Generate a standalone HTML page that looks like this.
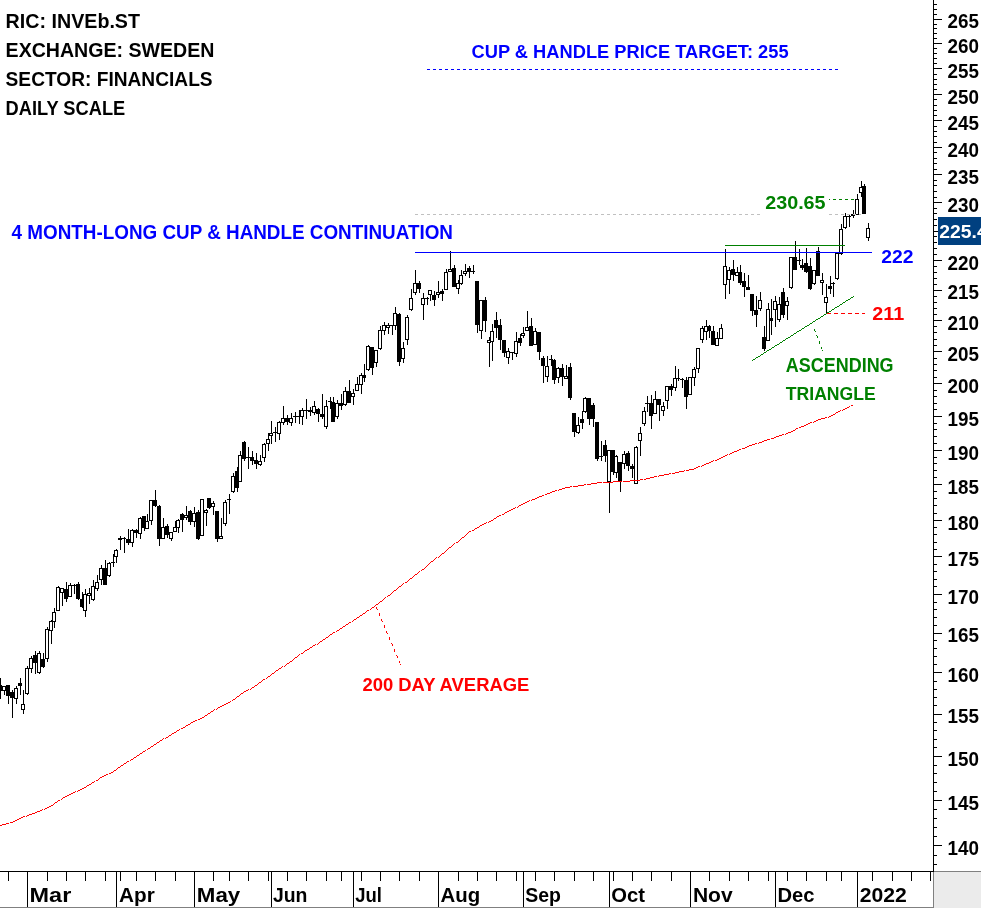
<!DOCTYPE html>
<html><head><meta charset="utf-8"><title>INVEb.ST daily chart</title>
<style>html,body{margin:0;padding:0;background:#fff}body{width:981px;height:908px;overflow:hidden}svg{display:block}text{font-family:"Liberation Sans",sans-serif;font-weight:bold}</style></head><body>
<svg width="981" height="908" viewBox="0 0 981 908">
<rect width="981" height="908" fill="#fff"/>
<g shape-rendering="crispEdges" fill="#000">
<rect x="0" y="678" width="1" height="21"/>
<rect x="-2" y="685" width="4" height="6"/>
<rect x="4" y="686" width="1" height="9"/>
<rect x="2" y="686" width="4" height="5"/>
<rect x="3" y="687" width="2" height="3" fill="#fff"/>
<rect x="8" y="685" width="1" height="19"/>
<rect x="6" y="685" width="4" height="11"/>
<rect x="12" y="690" width="1" height="28"/>
<rect x="10" y="692" width="4" height="6"/>
<rect x="16" y="686" width="1" height="18"/>
<rect x="14" y="688" width="4" height="11"/>
<rect x="15" y="689" width="2" height="9" fill="#fff"/>
<rect x="20" y="678" width="1" height="17"/>
<rect x="18" y="683" width="4" height="3"/>
<rect x="23" y="690" width="1" height="24"/>
<rect x="21" y="704" width="4" height="6"/>
<rect x="22" y="705" width="2" height="4" fill="#fff"/>
<rect x="27" y="666" width="1" height="29"/>
<rect x="25" y="668" width="4" height="26"/>
<rect x="26" y="669" width="2" height="24" fill="#fff"/>
<rect x="31" y="656" width="1" height="17"/>
<rect x="29" y="658" width="4" height="11"/>
<rect x="30" y="659" width="2" height="9" fill="#fff"/>
<rect x="35" y="651" width="1" height="23"/>
<rect x="33" y="655" width="4" height="8"/>
<rect x="39" y="651" width="1" height="23"/>
<rect x="37" y="653" width="4" height="20"/>
<rect x="38" y="654" width="2" height="18" fill="#fff"/>
<rect x="43" y="653" width="1" height="15"/>
<rect x="41" y="659" width="4" height="8"/>
<rect x="47" y="627" width="1" height="35"/>
<rect x="45" y="629" width="4" height="30"/>
<rect x="46" y="630" width="2" height="28" fill="#fff"/>
<rect x="51" y="620" width="1" height="24"/>
<rect x="49" y="621" width="4" height="10"/>
<rect x="50" y="622" width="2" height="8" fill="#fff"/>
<rect x="54" y="608" width="1" height="20"/>
<rect x="52" y="612" width="4" height="10"/>
<rect x="53" y="613" width="2" height="8" fill="#fff"/>
<rect x="58" y="586" width="1" height="24"/>
<rect x="56" y="587" width="4" height="24"/>
<rect x="57" y="588" width="2" height="22" fill="#fff"/>
<rect x="62" y="588" width="1" height="18"/>
<rect x="60" y="588" width="4" height="5"/>
<rect x="61" y="589" width="2" height="3" fill="#fff"/>
<rect x="66" y="582" width="1" height="20"/>
<rect x="64" y="589" width="4" height="10"/>
<rect x="70" y="583" width="1" height="13"/>
<rect x="68" y="585" width="4" height="12"/>
<rect x="69" y="586" width="2" height="10" fill="#fff"/>
<rect x="74" y="584" width="1" height="10"/>
<rect x="72" y="585" width="4" height="1"/>
<rect x="78" y="582" width="1" height="18"/>
<rect x="76" y="584" width="4" height="15"/>
<rect x="82" y="592" width="1" height="16"/>
<rect x="80" y="599" width="4" height="8"/>
<rect x="85" y="589" width="1" height="28"/>
<rect x="83" y="594" width="4" height="17"/>
<rect x="84" y="595" width="2" height="15" fill="#fff"/>
<rect x="89" y="588" width="1" height="16"/>
<rect x="87" y="593" width="4" height="3"/>
<rect x="88" y="594" width="2" height="1" fill="#fff"/>
<rect x="93" y="580" width="1" height="21"/>
<rect x="91" y="586" width="4" height="14"/>
<rect x="92" y="587" width="2" height="12" fill="#fff"/>
<rect x="97" y="575" width="1" height="16"/>
<rect x="95" y="582" width="4" height="7"/>
<rect x="96" y="583" width="2" height="5" fill="#fff"/>
<rect x="101" y="565" width="1" height="20"/>
<rect x="99" y="568" width="4" height="12"/>
<rect x="100" y="569" width="2" height="10" fill="#fff"/>
<rect x="105" y="560" width="1" height="25"/>
<rect x="103" y="568" width="4" height="17"/>
<rect x="109" y="562" width="1" height="15"/>
<rect x="107" y="563" width="4" height="13"/>
<rect x="108" y="564" width="2" height="11" fill="#fff"/>
<rect x="113" y="554" width="1" height="13"/>
<rect x="111" y="562" width="4" height="1"/>
<rect x="116" y="549" width="1" height="14"/>
<rect x="114" y="550" width="4" height="7"/>
<rect x="115" y="551" width="2" height="5" fill="#fff"/>
<rect x="120" y="536" width="1" height="14"/>
<rect x="118" y="538" width="4" height="2"/>
<rect x="124" y="537" width="1" height="16"/>
<rect x="122" y="538" width="4" height="1"/>
<rect x="128" y="529" width="1" height="16"/>
<rect x="126" y="539" width="4" height="4"/>
<rect x="132" y="529" width="1" height="18"/>
<rect x="130" y="530" width="4" height="13"/>
<rect x="131" y="531" width="2" height="11" fill="#fff"/>
<rect x="136" y="529" width="1" height="9"/>
<rect x="134" y="530" width="4" height="3"/>
<rect x="140" y="517" width="1" height="22"/>
<rect x="138" y="518" width="4" height="16"/>
<rect x="139" y="519" width="2" height="14" fill="#fff"/>
<rect x="144" y="516" width="1" height="15"/>
<rect x="142" y="516" width="4" height="12"/>
<rect x="147" y="514" width="1" height="14"/>
<rect x="145" y="521" width="4" height="8"/>
<rect x="146" y="522" width="2" height="6" fill="#fff"/>
<rect x="151" y="500" width="1" height="25"/>
<rect x="149" y="500" width="4" height="21"/>
<rect x="150" y="501" width="2" height="19" fill="#fff"/>
<rect x="155" y="490" width="1" height="17"/>
<rect x="153" y="500" width="4" height="6"/>
<rect x="159" y="505" width="1" height="41"/>
<rect x="157" y="506" width="4" height="33"/>
<rect x="163" y="518" width="1" height="20"/>
<rect x="161" y="527" width="4" height="12"/>
<rect x="162" y="528" width="2" height="10" fill="#fff"/>
<rect x="167" y="524" width="1" height="14"/>
<rect x="165" y="526" width="4" height="9"/>
<rect x="171" y="532" width="1" height="9"/>
<rect x="169" y="532" width="4" height="7"/>
<rect x="170" y="533" width="2" height="5" fill="#fff"/>
<rect x="175" y="521" width="1" height="10"/>
<rect x="173" y="527" width="4" height="5"/>
<rect x="174" y="528" width="2" height="3" fill="#fff"/>
<rect x="178" y="519" width="1" height="14"/>
<rect x="176" y="520" width="4" height="8"/>
<rect x="177" y="521" width="2" height="6" fill="#fff"/>
<rect x="182" y="513" width="1" height="19"/>
<rect x="180" y="514" width="4" height="6"/>
<rect x="186" y="506" width="1" height="14"/>
<rect x="184" y="515" width="4" height="3"/>
<rect x="185" y="516" width="2" height="1" fill="#fff"/>
<rect x="190" y="510" width="1" height="15"/>
<rect x="188" y="511" width="4" height="11"/>
<rect x="194" y="507" width="1" height="20"/>
<rect x="192" y="513" width="4" height="9"/>
<rect x="193" y="514" width="2" height="7" fill="#fff"/>
<rect x="198" y="510" width="1" height="30"/>
<rect x="196" y="512" width="4" height="27"/>
<rect x="202" y="499" width="1" height="37"/>
<rect x="200" y="499" width="4" height="37"/>
<rect x="201" y="500" width="2" height="35" fill="#fff"/>
<rect x="206" y="509" width="1" height="17"/>
<rect x="204" y="510" width="4" height="3"/>
<rect x="205" y="511" width="2" height="1" fill="#fff"/>
<rect x="209" y="498" width="1" height="11"/>
<rect x="207" y="498" width="4" height="10"/>
<rect x="213" y="501" width="1" height="14"/>
<rect x="211" y="503" width="4" height="4"/>
<rect x="212" y="504" width="2" height="2" fill="#fff"/>
<rect x="217" y="511" width="1" height="31"/>
<rect x="215" y="511" width="4" height="28"/>
<rect x="221" y="518" width="1" height="21"/>
<rect x="219" y="536" width="4" height="3"/>
<rect x="220" y="537" width="2" height="1" fill="#fff"/>
<rect x="225" y="500" width="1" height="26"/>
<rect x="223" y="502" width="4" height="22"/>
<rect x="224" y="503" width="2" height="20" fill="#fff"/>
<rect x="229" y="494" width="1" height="20"/>
<rect x="227" y="499" width="4" height="1"/>
<rect x="233" y="473" width="1" height="20"/>
<rect x="231" y="476" width="4" height="16"/>
<rect x="232" y="477" width="2" height="14" fill="#fff"/>
<rect x="237" y="467" width="1" height="25"/>
<rect x="235" y="471" width="4" height="17"/>
<rect x="240" y="451" width="1" height="30"/>
<rect x="238" y="455" width="4" height="27"/>
<rect x="239" y="456" width="2" height="25" fill="#fff"/>
<rect x="244" y="441" width="1" height="20"/>
<rect x="242" y="442" width="4" height="17"/>
<rect x="248" y="447" width="1" height="22"/>
<rect x="246" y="457" width="4" height="1"/>
<rect x="252" y="451" width="1" height="14"/>
<rect x="250" y="457" width="4" height="4"/>
<rect x="256" y="453" width="1" height="16"/>
<rect x="254" y="460" width="4" height="4"/>
<rect x="260" y="455" width="1" height="11"/>
<rect x="258" y="461" width="4" height="4"/>
<rect x="259" y="462" width="2" height="2" fill="#fff"/>
<rect x="264" y="443" width="1" height="19"/>
<rect x="262" y="444" width="4" height="14"/>
<rect x="263" y="445" width="2" height="12" fill="#fff"/>
<rect x="268" y="433" width="1" height="18"/>
<rect x="266" y="439" width="4" height="5"/>
<rect x="267" y="440" width="2" height="3" fill="#fff"/>
<rect x="271" y="421" width="1" height="23"/>
<rect x="269" y="433" width="4" height="3"/>
<rect x="270" y="434" width="2" height="1" fill="#fff"/>
<rect x="275" y="427" width="1" height="15"/>
<rect x="273" y="432" width="4" height="1"/>
<rect x="279" y="421" width="1" height="19"/>
<rect x="277" y="422" width="4" height="12"/>
<rect x="278" y="423" width="2" height="10" fill="#fff"/>
<rect x="283" y="406" width="1" height="19"/>
<rect x="281" y="418" width="4" height="5"/>
<rect x="282" y="419" width="2" height="3" fill="#fff"/>
<rect x="287" y="415" width="1" height="10"/>
<rect x="285" y="418" width="4" height="4"/>
<rect x="291" y="413" width="1" height="13"/>
<rect x="289" y="418" width="4" height="5"/>
<rect x="290" y="419" width="2" height="3" fill="#fff"/>
<rect x="295" y="412" width="1" height="11"/>
<rect x="293" y="416" width="4" height="1"/>
<rect x="299" y="410" width="1" height="14"/>
<rect x="297" y="416" width="4" height="1"/>
<rect x="302" y="408" width="1" height="17"/>
<rect x="300" y="410" width="4" height="7"/>
<rect x="301" y="411" width="2" height="5" fill="#fff"/>
<rect x="306" y="399" width="1" height="20"/>
<rect x="304" y="410" width="4" height="1"/>
<rect x="310" y="407" width="1" height="9"/>
<rect x="308" y="410" width="4" height="2"/>
<rect x="314" y="401" width="1" height="14"/>
<rect x="312" y="406" width="4" height="7"/>
<rect x="313" y="407" width="2" height="5" fill="#fff"/>
<rect x="318" y="408" width="1" height="14"/>
<rect x="316" y="409" width="4" height="5"/>
<rect x="322" y="394" width="1" height="25"/>
<rect x="320" y="414" width="4" height="3"/>
<rect x="326" y="400" width="1" height="29"/>
<rect x="324" y="406" width="4" height="21"/>
<rect x="325" y="407" width="2" height="19" fill="#fff"/>
<rect x="330" y="397" width="1" height="12"/>
<rect x="328" y="401" width="4" height="1"/>
<rect x="333" y="397" width="1" height="25"/>
<rect x="331" y="402" width="4" height="20"/>
<rect x="337" y="400" width="1" height="19"/>
<rect x="335" y="403" width="4" height="14"/>
<rect x="336" y="404" width="2" height="12" fill="#fff"/>
<rect x="341" y="394" width="1" height="16"/>
<rect x="339" y="403" width="4" height="3"/>
<rect x="345" y="387" width="1" height="19"/>
<rect x="343" y="391" width="4" height="14"/>
<rect x="344" y="392" width="2" height="12" fill="#fff"/>
<rect x="349" y="380" width="1" height="23"/>
<rect x="347" y="391" width="4" height="12"/>
<rect x="353" y="389" width="1" height="16"/>
<rect x="351" y="393" width="4" height="4"/>
<rect x="352" y="394" width="2" height="2" fill="#fff"/>
<rect x="357" y="377" width="1" height="13"/>
<rect x="355" y="384" width="4" height="7"/>
<rect x="356" y="385" width="2" height="5" fill="#fff"/>
<rect x="361" y="373" width="1" height="21"/>
<rect x="359" y="375" width="4" height="10"/>
<rect x="360" y="376" width="2" height="8" fill="#fff"/>
<rect x="364" y="364" width="1" height="18"/>
<rect x="362" y="375" width="4" height="3"/>
<rect x="368" y="345" width="1" height="26"/>
<rect x="366" y="346" width="4" height="24"/>
<rect x="367" y="347" width="2" height="22" fill="#fff"/>
<rect x="372" y="347" width="1" height="28"/>
<rect x="370" y="347" width="4" height="21"/>
<rect x="376" y="350" width="1" height="17"/>
<rect x="374" y="350" width="4" height="13"/>
<rect x="375" y="351" width="2" height="11" fill="#fff"/>
<rect x="380" y="326" width="1" height="24"/>
<rect x="378" y="330" width="4" height="19"/>
<rect x="379" y="331" width="2" height="17" fill="#fff"/>
<rect x="384" y="322" width="1" height="13"/>
<rect x="382" y="325" width="4" height="6"/>
<rect x="383" y="326" width="2" height="4" fill="#fff"/>
<rect x="388" y="323" width="1" height="11"/>
<rect x="386" y="325" width="4" height="3"/>
<rect x="387" y="326" width="2" height="1" fill="#fff"/>
<rect x="392" y="325" width="1" height="10"/>
<rect x="390" y="325" width="4" height="1"/>
<rect x="395" y="307" width="1" height="23"/>
<rect x="393" y="313" width="4" height="13"/>
<rect x="394" y="314" width="2" height="11" fill="#fff"/>
<rect x="399" y="313" width="1" height="53"/>
<rect x="397" y="314" width="4" height="48"/>
<rect x="403" y="342" width="1" height="21"/>
<rect x="401" y="348" width="4" height="11"/>
<rect x="402" y="349" width="2" height="9" fill="#fff"/>
<rect x="407" y="315" width="1" height="30"/>
<rect x="405" y="317" width="4" height="23"/>
<rect x="406" y="318" width="2" height="21" fill="#fff"/>
<rect x="411" y="289" width="1" height="22"/>
<rect x="409" y="298" width="4" height="12"/>
<rect x="410" y="299" width="2" height="10" fill="#fff"/>
<rect x="415" y="270" width="1" height="25"/>
<rect x="413" y="283" width="4" height="10"/>
<rect x="414" y="284" width="2" height="8" fill="#fff"/>
<rect x="419" y="281" width="1" height="12"/>
<rect x="417" y="283" width="4" height="6"/>
<rect x="423" y="293" width="1" height="27"/>
<rect x="421" y="298" width="4" height="7"/>
<rect x="422" y="299" width="2" height="5" fill="#fff"/>
<rect x="427" y="297" width="1" height="8"/>
<rect x="425" y="298" width="4" height="1"/>
<rect x="430" y="291" width="1" height="10"/>
<rect x="428" y="290" width="4" height="5"/>
<rect x="429" y="291" width="2" height="3" fill="#fff"/>
<rect x="434" y="291" width="1" height="15"/>
<rect x="432" y="295" width="4" height="5"/>
<rect x="438" y="281" width="1" height="17"/>
<rect x="436" y="292" width="4" height="3"/>
<rect x="437" y="293" width="2" height="1" fill="#fff"/>
<rect x="442" y="289" width="1" height="12"/>
<rect x="440" y="291" width="4" height="3"/>
<rect x="446" y="269" width="1" height="20"/>
<rect x="444" y="272" width="4" height="18"/>
<rect x="445" y="273" width="2" height="16" fill="#fff"/>
<rect x="450" y="251" width="1" height="20"/>
<rect x="448" y="269" width="4" height="3"/>
<rect x="449" y="270" width="2" height="1" fill="#fff"/>
<rect x="454" y="265" width="1" height="22"/>
<rect x="452" y="268" width="4" height="19"/>
<rect x="458" y="280" width="1" height="14"/>
<rect x="456" y="283" width="4" height="6"/>
<rect x="457" y="284" width="2" height="4" fill="#fff"/>
<rect x="461" y="270" width="1" height="15"/>
<rect x="459" y="275" width="4" height="9"/>
<rect x="460" y="276" width="2" height="7" fill="#fff"/>
<rect x="465" y="264" width="1" height="12"/>
<rect x="463" y="271" width="4" height="3"/>
<rect x="464" y="272" width="2" height="1" fill="#fff"/>
<rect x="469" y="266" width="1" height="12"/>
<rect x="467" y="268" width="4" height="4"/>
<rect x="473" y="265" width="1" height="9"/>
<rect x="471" y="271" width="4" height="1"/>
<rect x="477" y="281" width="1" height="52"/>
<rect x="475" y="281" width="4" height="44"/>
<rect x="481" y="300" width="1" height="39"/>
<rect x="479" y="300" width="4" height="31"/>
<rect x="480" y="301" width="2" height="29" fill="#fff"/>
<rect x="485" y="297" width="1" height="35"/>
<rect x="483" y="300" width="4" height="21"/>
<rect x="489" y="337" width="1" height="30"/>
<rect x="487" y="340" width="4" height="3"/>
<rect x="488" y="341" width="2" height="1" fill="#fff"/>
<rect x="492" y="324" width="1" height="37"/>
<rect x="490" y="331" width="4" height="11"/>
<rect x="491" y="332" width="2" height="9" fill="#fff"/>
<rect x="496" y="312" width="1" height="26"/>
<rect x="494" y="320" width="4" height="8"/>
<rect x="500" y="319" width="1" height="31"/>
<rect x="498" y="325" width="4" height="15"/>
<rect x="504" y="340" width="1" height="17"/>
<rect x="502" y="340" width="4" height="13"/>
<rect x="508" y="348" width="1" height="16"/>
<rect x="506" y="351" width="4" height="7"/>
<rect x="507" y="352" width="2" height="5" fill="#fff"/>
<rect x="512" y="352" width="1" height="8"/>
<rect x="510" y="352" width="4" height="1"/>
<rect x="516" y="332" width="1" height="25"/>
<rect x="514" y="341" width="4" height="13"/>
<rect x="515" y="342" width="2" height="11" fill="#fff"/>
<rect x="520" y="334" width="1" height="12"/>
<rect x="518" y="338" width="4" height="5"/>
<rect x="523" y="327" width="1" height="11"/>
<rect x="521" y="333" width="4" height="3"/>
<rect x="522" y="334" width="2" height="1" fill="#fff"/>
<rect x="527" y="311" width="1" height="19"/>
<rect x="525" y="327" width="4" height="4"/>
<rect x="526" y="328" width="2" height="2" fill="#fff"/>
<rect x="531" y="318" width="1" height="28"/>
<rect x="529" y="326" width="4" height="20"/>
<rect x="535" y="328" width="1" height="16"/>
<rect x="533" y="331" width="4" height="14"/>
<rect x="534" y="332" width="2" height="12" fill="#fff"/>
<rect x="539" y="332" width="1" height="28"/>
<rect x="537" y="332" width="4" height="20"/>
<rect x="543" y="356" width="1" height="27"/>
<rect x="541" y="358" width="4" height="8"/>
<rect x="547" y="356" width="1" height="26"/>
<rect x="545" y="366" width="4" height="11"/>
<rect x="546" y="367" width="2" height="9" fill="#fff"/>
<rect x="551" y="355" width="1" height="11"/>
<rect x="549" y="359" width="4" height="1"/>
<rect x="554" y="359" width="1" height="25"/>
<rect x="552" y="360" width="4" height="20"/>
<rect x="558" y="367" width="1" height="16"/>
<rect x="556" y="368" width="4" height="10"/>
<rect x="557" y="369" width="2" height="8" fill="#fff"/>
<rect x="562" y="364" width="1" height="22"/>
<rect x="560" y="368" width="4" height="9"/>
<rect x="566" y="365" width="1" height="12"/>
<rect x="564" y="376" width="4" height="3"/>
<rect x="565" y="377" width="2" height="1" fill="#fff"/>
<rect x="570" y="363" width="1" height="37"/>
<rect x="568" y="367" width="4" height="31"/>
<rect x="574" y="413" width="1" height="24"/>
<rect x="572" y="413" width="4" height="19"/>
<rect x="578" y="417" width="1" height="17"/>
<rect x="576" y="425" width="4" height="8"/>
<rect x="577" y="426" width="2" height="6" fill="#fff"/>
<rect x="582" y="411" width="1" height="18"/>
<rect x="580" y="419" width="4" height="4"/>
<rect x="585" y="397" width="1" height="16"/>
<rect x="583" y="398" width="4" height="14"/>
<rect x="584" y="399" width="2" height="12" fill="#fff"/>
<rect x="589" y="398" width="1" height="27"/>
<rect x="587" y="398" width="4" height="21"/>
<rect x="593" y="403" width="1" height="24"/>
<rect x="591" y="405" width="4" height="14"/>
<rect x="597" y="422" width="1" height="39"/>
<rect x="595" y="422" width="4" height="37"/>
<rect x="601" y="441" width="1" height="20"/>
<rect x="599" y="456" width="4" height="1"/>
<rect x="605" y="440" width="1" height="22"/>
<rect x="603" y="445" width="4" height="11"/>
<rect x="609" y="450" width="1" height="63"/>
<rect x="607" y="450" width="4" height="32"/>
<rect x="608" y="451" width="2" height="30" fill="#fff"/>
<rect x="613" y="450" width="1" height="25"/>
<rect x="611" y="450" width="4" height="22"/>
<rect x="616" y="455" width="1" height="23"/>
<rect x="614" y="456" width="4" height="17"/>
<rect x="615" y="457" width="2" height="15" fill="#fff"/>
<rect x="620" y="462" width="1" height="30"/>
<rect x="618" y="462" width="4" height="19"/>
<rect x="624" y="451" width="1" height="18"/>
<rect x="622" y="454" width="4" height="10"/>
<rect x="623" y="455" width="2" height="8" fill="#fff"/>
<rect x="628" y="451" width="1" height="20"/>
<rect x="626" y="453" width="4" height="13"/>
<rect x="632" y="464" width="1" height="14"/>
<rect x="630" y="466" width="4" height="3"/>
<rect x="636" y="446" width="1" height="37"/>
<rect x="634" y="447" width="4" height="37"/>
<rect x="635" y="448" width="2" height="35" fill="#fff"/>
<rect x="640" y="427" width="1" height="29"/>
<rect x="638" y="433" width="4" height="8"/>
<rect x="639" y="434" width="2" height="6" fill="#fff"/>
<rect x="644" y="407" width="1" height="19"/>
<rect x="642" y="411" width="4" height="13"/>
<rect x="643" y="412" width="2" height="11" fill="#fff"/>
<rect x="647" y="396" width="1" height="16"/>
<rect x="645" y="403" width="4" height="1"/>
<rect x="651" y="395" width="1" height="34"/>
<rect x="649" y="403" width="4" height="13"/>
<rect x="655" y="391" width="1" height="23"/>
<rect x="653" y="399" width="4" height="15"/>
<rect x="654" y="400" width="2" height="13" fill="#fff"/>
<rect x="659" y="399" width="1" height="22"/>
<rect x="657" y="399" width="4" height="6"/>
<rect x="663" y="402" width="1" height="14"/>
<rect x="661" y="406" width="4" height="5"/>
<rect x="662" y="407" width="2" height="3" fill="#fff"/>
<rect x="667" y="386" width="1" height="23"/>
<rect x="665" y="386" width="4" height="15"/>
<rect x="666" y="387" width="2" height="13" fill="#fff"/>
<rect x="671" y="384" width="1" height="12"/>
<rect x="669" y="386" width="4" height="4"/>
<rect x="675" y="366" width="1" height="25"/>
<rect x="673" y="378" width="4" height="10"/>
<rect x="674" y="379" width="2" height="8" fill="#fff"/>
<rect x="678" y="369" width="1" height="12"/>
<rect x="676" y="378" width="4" height="1"/>
<rect x="682" y="378" width="1" height="10"/>
<rect x="680" y="379" width="4" height="1"/>
<rect x="686" y="377" width="1" height="32"/>
<rect x="684" y="380" width="4" height="17"/>
<rect x="690" y="378" width="1" height="17"/>
<rect x="688" y="377" width="4" height="18"/>
<rect x="689" y="378" width="2" height="16" fill="#fff"/>
<rect x="694" y="367" width="1" height="19"/>
<rect x="692" y="369" width="4" height="9"/>
<rect x="693" y="370" width="2" height="7" fill="#fff"/>
<rect x="698" y="348" width="1" height="25"/>
<rect x="696" y="348" width="4" height="21"/>
<rect x="697" y="349" width="2" height="19" fill="#fff"/>
<rect x="702" y="326" width="1" height="17"/>
<rect x="700" y="328" width="4" height="12"/>
<rect x="701" y="329" width="2" height="10" fill="#fff"/>
<rect x="706" y="320" width="1" height="20"/>
<rect x="704" y="326" width="4" height="6"/>
<rect x="705" y="327" width="2" height="4" fill="#fff"/>
<rect x="709" y="325" width="1" height="13"/>
<rect x="707" y="326" width="4" height="5"/>
<rect x="713" y="326" width="1" height="19"/>
<rect x="711" y="331" width="4" height="14"/>
<rect x="717" y="332" width="1" height="13"/>
<rect x="715" y="338" width="4" height="8"/>
<rect x="716" y="339" width="2" height="6" fill="#fff"/>
<rect x="721" y="324" width="1" height="14"/>
<rect x="719" y="328" width="4" height="11"/>
<rect x="720" y="329" width="2" height="9" fill="#fff"/>
<rect x="725" y="249" width="1" height="50"/>
<rect x="723" y="266" width="4" height="19"/>
<rect x="724" y="267" width="2" height="17" fill="#fff"/>
<rect x="729" y="267" width="1" height="27"/>
<rect x="727" y="270" width="4" height="10"/>
<rect x="728" y="271" width="2" height="8" fill="#fff"/>
<rect x="733" y="260" width="1" height="21"/>
<rect x="731" y="269" width="4" height="6"/>
<rect x="737" y="267" width="1" height="9"/>
<rect x="735" y="272" width="4" height="4"/>
<rect x="736" y="273" width="2" height="2" fill="#fff"/>
<rect x="740" y="265" width="1" height="20"/>
<rect x="738" y="272" width="4" height="11"/>
<rect x="744" y="273" width="1" height="24"/>
<rect x="742" y="281" width="4" height="6"/>
<rect x="748" y="275" width="1" height="15"/>
<rect x="746" y="287" width="4" height="3"/>
<rect x="752" y="294" width="1" height="22"/>
<rect x="750" y="294" width="4" height="17"/>
<rect x="756" y="296" width="1" height="31"/>
<rect x="754" y="310" width="4" height="5"/>
<rect x="760" y="292" width="1" height="19"/>
<rect x="758" y="300" width="4" height="9"/>
<rect x="759" y="301" width="2" height="7" fill="#fff"/>
<rect x="764" y="326" width="1" height="25"/>
<rect x="762" y="337" width="4" height="12"/>
<rect x="768" y="303" width="1" height="38"/>
<rect x="766" y="309" width="4" height="32"/>
<rect x="767" y="310" width="2" height="30" fill="#fff"/>
<rect x="771" y="299" width="1" height="36"/>
<rect x="769" y="318" width="4" height="3"/>
<rect x="775" y="296" width="1" height="31"/>
<rect x="773" y="301" width="4" height="9"/>
<rect x="774" y="302" width="2" height="7" fill="#fff"/>
<rect x="779" y="297" width="1" height="25"/>
<rect x="777" y="304" width="4" height="16"/>
<rect x="778" y="305" width="2" height="14" fill="#fff"/>
<rect x="783" y="288" width="1" height="30"/>
<rect x="781" y="292" width="4" height="23"/>
<rect x="787" y="297" width="1" height="23"/>
<rect x="785" y="301" width="4" height="5"/>
<rect x="786" y="302" width="2" height="3" fill="#fff"/>
<rect x="791" y="257" width="1" height="32"/>
<rect x="789" y="257" width="4" height="31"/>
<rect x="790" y="258" width="2" height="29" fill="#fff"/>
<rect x="795" y="241" width="1" height="29"/>
<rect x="793" y="257" width="4" height="13"/>
<rect x="799" y="249" width="1" height="16"/>
<rect x="797" y="260" width="4" height="1"/>
<rect x="802" y="259" width="1" height="11"/>
<rect x="800" y="265" width="4" height="3"/>
<rect x="806" y="248" width="1" height="25"/>
<rect x="804" y="263" width="4" height="9"/>
<rect x="810" y="258" width="1" height="32"/>
<rect x="808" y="266" width="4" height="23"/>
<rect x="814" y="270" width="1" height="15"/>
<rect x="812" y="270" width="4" height="14"/>
<rect x="813" y="271" width="2" height="12" fill="#fff"/>
<rect x="818" y="247" width="1" height="29"/>
<rect x="816" y="251" width="4" height="25"/>
<rect x="822" y="273" width="1" height="22"/>
<rect x="820" y="280" width="4" height="3"/>
<rect x="821" y="281" width="2" height="1" fill="#fff"/>
<rect x="826" y="284" width="1" height="29"/>
<rect x="824" y="297" width="4" height="6"/>
<rect x="825" y="298" width="2" height="4" fill="#fff"/>
<rect x="830" y="276" width="1" height="18"/>
<rect x="828" y="286" width="4" height="3"/>
<rect x="833" y="282" width="1" height="15"/>
<rect x="831" y="283" width="4" height="1"/>
<rect x="837" y="253" width="1" height="27"/>
<rect x="835" y="253" width="4" height="26"/>
<rect x="836" y="254" width="2" height="24" fill="#fff"/>
<rect x="841" y="224" width="1" height="31"/>
<rect x="839" y="229" width="4" height="25"/>
<rect x="840" y="230" width="2" height="23" fill="#fff"/>
<rect x="845" y="213" width="1" height="16"/>
<rect x="843" y="216" width="4" height="12"/>
<rect x="844" y="217" width="2" height="10" fill="#fff"/>
<rect x="849" y="215" width="1" height="12"/>
<rect x="847" y="216" width="4" height="1"/>
<rect x="853" y="210" width="1" height="8"/>
<rect x="851" y="214" width="4" height="2"/>
<rect x="857" y="194" width="1" height="20"/>
<rect x="855" y="199" width="4" height="16"/>
<rect x="856" y="200" width="2" height="14" fill="#fff"/>
<rect x="861" y="181" width="1" height="16"/>
<rect x="859" y="187" width="4" height="6"/>
<rect x="860" y="188" width="2" height="4" fill="#fff"/>
<rect x="864" y="184" width="1" height="30"/>
<rect x="862" y="186" width="4" height="28"/>
<rect x="868" y="223" width="1" height="18"/>
<rect x="866" y="228" width="4" height="10"/>
<rect x="867" y="229" width="2" height="8" fill="#fff"/>
</g>
<g shape-rendering="crispEdges">
<path d="M415 214.5H861" stroke="#c0c0c0" stroke-width="1" stroke-dasharray="3 3" fill="none"/>
<path d="M427 69.5H839" stroke="#00f" stroke-width="1" stroke-dasharray="3 3" fill="none"/>
<path d="M415 252.5H872" stroke="#00f" stroke-width="1" fill="none"/>
<path d="M725 245.5H845" stroke="#008000" stroke-width="1" fill="none"/>
</g>
<path d="M851 405h2v1h-2zM849 406h1v1h-1zM847 407h2v1h-2zM845 408h2v1h-2zM843 409h2v1h-2zM840 410h1v1h-1zM842 410h1v1h-1zM838 411h2v1h-2zM836 412h2v1h-2zM835 413h1v1h-1zM833 414h2v1h-2zM831 415h2v1h-2zM829 416h2v1h-2zM825 417h2v1h-2zM828 417h1v1h-1zM821 418h4v1h-4zM818 419h3v1h-3zM816 420h2v1h-2zM814 421h2v1h-2zM810 422h2v1h-2zM813 422h1v1h-1zM808 423h2v1h-2zM806 424h2v1h-2zM804 425h2v1h-2zM801 426h3v1h-3zM799 427h2v1h-2zM796 428h2v1h-2zM795 429h1v1h-1zM793 430h2v1h-2zM791 431h2v1h-2zM788 432h3v1h-3zM786 433h2v1h-2zM782 434h2v1h-2zM785 434h1v1h-1zM779 435h3v1h-3zM776 436h3v1h-3zM774 437h2v1h-2zM771 438h3v1h-3zM767 439h3v1h-3zM764 440h3v1h-3zM762 441h2v1h-2zM759 442h3v1h-3zM755 443h2v1h-2zM758 443h1v1h-1zM752 444h3v1h-3zM749 445h3v1h-3zM747 446h2v1h-2zM745 447h2v1h-2zM742 448h3v1h-3zM739 449h2v1h-2zM737 450h2v1h-2zM734 451h3v1h-3zM732 452h2v1h-2zM730 453h2v1h-2zM727 454h1v1h-1zM729 454h1v1h-1zM725 455h2v1h-2zM723 456h2v1h-2zM721 457h2v1h-2zM719 458h2v1h-2zM717 459h2v1h-2zM713 460h1v1h-1zM715 460h2v1h-2zM711 461h2v1h-2zM709 462h2v1h-2zM706 463h3v1h-3zM704 464h2v1h-2zM702 465h2v1h-2zM698 466h2v1h-2zM701 466h1v1h-1zM696 467h2v1h-2zM694 468h2v1h-2zM689 469h5v1h-5zM684 470h1v1h-1zM686 470h3v1h-3zM679 471h5v1h-5zM675 472h4v1h-4zM669 473h2v1h-2zM672 473h3v1h-3zM664 474h5v1h-5zM659 475h5v1h-5zM654 476h3v1h-3zM658 476h1v1h-1zM650 477h4v1h-4zM646 478h4v1h-4zM640 479h3v1h-3zM644 479h2v1h-2zM630 480h10v1h-10zM613 481h9v1h-9zM623 481h7v1h-7zM597 482h5v1h-5zM603 482h10v1h-10zM591 483h6v1h-6zM584 484h2v1h-2zM587 484h4v1h-4zM578 485h6v1h-6zM570 486h2v1h-2zM573 486h5v1h-5zM565 487h5v1h-5zM562 488h3v1h-3zM559 489h3v1h-3zM555 490h2v1h-2zM558 490h1v1h-1zM552 491h3v1h-3zM550 492h2v1h-2zM547 493h3v1h-3zM545 494h2v1h-2zM542 495h2v1h-2zM539 496h3v1h-3zM537 497h2v1h-2zM535 498h2v1h-2zM532 499h3v1h-3zM529 500h1v1h-1zM531 500h1v1h-1zM527 501h2v1h-2zM525 502h2v1h-2zM523 503h2v1h-2zM521 504h2v1h-2zM519 505h2v1h-2zM518 506h1v1h-1zM515 507h1v1h-1zM517 507h1v1h-1zM513 508h2v1h-2zM511 509h2v1h-2zM509 510h2v1h-2zM507 511h2v1h-2zM505 512h2v1h-2zM504 513h1v1h-1zM502 514h2v1h-2zM499 515h2v1h-2zM497 516h2v1h-2zM496 517h1v1h-1zM494 518h2v1h-2zM493 519h1v1h-1zM491 520h2v1h-2zM489 521h2v1h-2zM486 522h1v1h-1zM488 522h1v1h-1zM484 523h2v1h-2zM482 524h2v1h-2zM480 525h2v1h-2zM479 526h1v1h-1zM477 527h2v1h-2zM475 528h2v1h-2zM474 529h1v1h-1zM472 530h2v1h-2zM469 531h2v1h-2zM468 532h1v1h-1zM467 533h1v1h-1zM466 534h1v1h-1zM465 535h1v1h-1zM464 536h1v1h-1zM462 537h2v1h-2zM461 538h1v1h-1zM460 539h1v1h-1zM459 540h1v1h-1zM458 541h1v1h-1zM456 542h2v1h-2zM454 543h1v1h-1zM453 544h1v1h-1zM452 545h1v1h-1zM451 546h1v1h-1zM449 547h2v1h-2zM448 548h1v1h-1zM447 549h1v1h-1zM446 550h1v1h-1zM445 551h1v1h-1zM444 552h1v1h-1zM442 553h2v1h-2zM441 554h1v1h-1zM440 555h1v1h-1zM439 556h1v1h-1zM436 557h1v1h-1zM438 557h1v1h-1zM435 558h1v1h-1zM434 559h1v1h-1zM433 560h1v1h-1zM431 561h2v1h-2zM430 562h1v1h-1zM429 563h1v1h-1zM428 564h1v1h-1zM427 565h1v1h-1zM426 566h1v1h-1zM425 567h1v1h-1zM424 568h1v1h-1zM422 569h2v1h-2zM421 570h1v1h-1zM419 571h1v1h-1zM418 572h1v1h-1zM417 573h1v1h-1zM415 574h2v1h-2zM414 575h1v1h-1zM413 576h1v1h-1zM412 577h1v1h-1zM410 578h2v1h-2zM409 579h1v1h-1zM408 580h1v1h-1zM407 581h1v1h-1zM405 582h2v1h-2zM403 583h1v1h-1zM402 584h1v1h-1zM401 585h1v1h-1zM399 586h2v1h-2zM398 587h1v1h-1zM397 588h1v1h-1zM396 589h1v1h-1zM394 590h2v1h-2zM393 591h1v1h-1zM392 592h1v1h-1zM391 593h1v1h-1zM390 594h1v1h-1zM388 595h2v1h-2zM387 596h1v1h-1zM385 597h1v1h-1zM384 598h1v1h-1zM383 599h1v1h-1zM382 600h1v1h-1zM380 601h2v1h-2zM379 602h1v1h-1zM378 603h1v1h-1zM376 604h2v1h-2zM375 605h1v1h-1zM374 606h1v1h-1zM372 607h2v1h-2zM371 608h1v1h-1zM370 609h1v1h-1zM367 610h2v1h-2zM366 611h1v1h-1zM365 612h1v1h-1zM363 613h2v1h-2zM362 614h1v1h-1zM360 615h2v1h-2zM359 616h1v1h-1zM357 617h2v1h-2zM356 618h1v1h-1zM354 619h2v1h-2zM353 620h1v1h-1zM352 621h1v1h-1zM349 622h2v1h-2zM348 623h1v1h-1zM346 624h2v1h-2zM345 625h1v1h-1zM343 626h2v1h-2zM342 627h1v1h-1zM340 628h2v1h-2zM339 629h1v1h-1zM337 630h2v1h-2zM336 631h1v1h-1zM333 632h2v1h-2zM332 633h1v1h-1zM330 634h2v1h-2zM329 635h1v1h-1zM328 636h1v1h-1zM326 637h2v1h-2zM325 638h1v1h-1zM323 639h2v1h-2zM322 640h1v1h-1zM320 641h2v1h-2zM319 642h1v1h-1zM318 643h1v1h-1zM315 644h1v1h-1zM317 644h1v1h-1zM313 645h2v1h-2zM312 646h1v1h-1zM310 647h2v1h-2zM309 648h1v1h-1zM307 649h2v1h-2zM305 650h2v1h-2zM304 651h1v1h-1zM303 652h1v1h-1zM301 653h2v1h-2zM299 654h1v1h-1zM298 655h1v1h-1zM297 656h1v1h-1zM295 657h2v1h-2zM294 658h1v1h-1zM293 659h1v1h-1zM292 660h1v1h-1zM290 661h2v1h-2zM289 662h1v1h-1zM287 663h2v1h-2zM286 664h1v1h-1zM285 665h1v1h-1zM282 666h1v1h-1zM284 666h1v1h-1zM281 667h1v1h-1zM279 668h2v1h-2zM278 669h1v1h-1zM276 670h2v1h-2zM275 671h1v1h-1zM274 672h1v1h-1zM272 673h2v1h-2zM271 674h1v1h-1zM270 675h1v1h-1zM268 676h2v1h-2zM267 677h1v1h-1zM266 678h1v1h-1zM263 679h2v1h-2zM262 680h1v1h-1zM261 681h1v1h-1zM259 682h2v1h-2zM258 683h1v1h-1zM257 684h1v1h-1zM255 685h2v1h-2zM254 686h1v1h-1zM252 687h2v1h-2zM251 688h1v1h-1zM248 689h1v1h-1zM250 689h1v1h-1zM246 690h2v1h-2zM244 691h2v1h-2zM243 692h1v1h-1zM241 693h2v1h-2zM240 694h1v1h-1zM239 695h1v1h-1zM237 696h2v1h-2zM236 697h1v1h-1zM235 698h1v1h-1zM233 699h2v1h-2zM232 700h1v1h-1zM230 701h1v1h-1zM228 702h2v1h-2zM226 703h2v1h-2zM224 704h2v1h-2zM222 705h2v1h-2zM220 706h2v1h-2zM218 707h2v1h-2zM217 708h1v1h-1zM214 709h1v1h-1zM216 709h1v1h-1zM213 710h1v1h-1zM211 711h2v1h-2zM210 712h1v1h-1zM208 713h2v1h-2zM207 714h1v1h-1zM205 715h2v1h-2zM204 716h1v1h-1zM202 717h2v1h-2zM200 718h2v1h-2zM198 719h2v1h-2zM195 720h2v1h-2zM193 721h2v1h-2zM191 722h2v1h-2zM190 723h1v1h-1zM188 724h2v1h-2zM186 725h2v1h-2zM185 726h1v1h-1zM183 727h2v1h-2zM181 728h2v1h-2zM179 729h1v1h-1zM177 730h2v1h-2zM176 731h1v1h-1zM174 732h2v1h-2zM172 733h2v1h-2zM171 734h1v1h-1zM169 735h2v1h-2zM168 736h1v1h-1zM166 737h2v1h-2zM163 738h1v1h-1zM165 738h1v1h-1zM162 739h1v1h-1zM160 740h2v1h-2zM159 741h1v1h-1zM157 742h2v1h-2zM156 743h1v1h-1zM154 744h2v1h-2zM153 745h1v1h-1zM151 746h2v1h-2zM150 747h1v1h-1zM148 748h2v1h-2zM147 749h1v1h-1zM145 750h1v1h-1zM143 751h2v1h-2zM142 752h1v1h-1zM140 753h2v1h-2zM139 754h1v1h-1zM137 755h2v1h-2zM136 756h1v1h-1zM134 757h2v1h-2zM133 758h1v1h-1zM131 759h2v1h-2zM130 760h1v1h-1zM127 761h2v1h-2zM126 762h1v1h-1zM124 763h2v1h-2zM123 764h1v1h-1zM121 765h2v1h-2zM120 766h1v1h-1zM118 767h2v1h-2zM117 768h1v1h-1zM116 769h1v1h-1zM114 770h2v1h-2zM113 771h1v1h-1zM111 772h2v1h-2zM109 773h2v1h-2zM106 774h2v1h-2zM104 775h2v1h-2zM102 776h2v1h-2zM100 777h2v1h-2zM99 778h1v1h-1zM98 779h1v1h-1zM96 780h2v1h-2zM94 781h1v1h-1zM92 782h2v1h-2zM91 783h1v1h-1zM89 784h2v1h-2zM87 785h2v1h-2zM86 786h1v1h-1zM84 787h2v1h-2zM82 788h2v1h-2zM80 789h2v1h-2zM78 790h2v1h-2zM75 791h1v1h-1zM77 791h1v1h-1zM73 792h2v1h-2zM71 793h2v1h-2zM69 794h2v1h-2zM67 795h2v1h-2zM65 796h2v1h-2zM63 797h2v1h-2zM62 798h1v1h-1zM61 799h1v1h-1zM58 800h2v1h-2zM57 801h1v1h-1zM55 802h2v1h-2zM54 803h1v1h-1zM53 804h1v1h-1zM51 805h2v1h-2zM49 806h2v1h-2zM47 807h2v1h-2zM45 808h2v1h-2zM42 809h1v1h-1zM44 809h1v1h-1zM40 810h2v1h-2zM37 811h3v1h-3zM35 812h2v1h-2zM32 813h3v1h-3zM29 814h3v1h-3zM27 815h2v1h-2zM23 816h2v1h-2zM26 816h1v1h-1zM21 817h2v1h-2zM19 818h2v1h-2zM17 819h2v1h-2zM15 820h2v1h-2zM13 821h2v1h-2zM10 822h3v1h-3zM6 823h3v1h-3zM2 824h4v1h-4zM0 825h2v1h-2z" fill="#f00" shape-rendering="crispEdges"/>
<path d="M853 296h1v1h-1zM851 297h2v1h-2zM850 298h1v1h-1zM848 299h2v1h-2zM846 300h2v1h-2zM845 301h1v1h-1zM843 302h2v1h-2zM842 303h1v1h-1zM840 304h2v1h-2zM839 305h1v1h-1zM837 306h2v1h-2zM835 307h2v1h-2zM834 308h1v1h-1zM832 309h2v1h-2zM831 310h1v1h-1zM829 311h2v1h-2zM827 312h2v1h-2zM826 313h1v1h-1zM824 314h2v1h-2zM823 315h1v1h-1zM821 316h2v1h-2zM820 317h1v1h-1zM818 318h2v1h-2zM816 319h2v1h-2zM815 320h1v1h-1zM813 321h2v1h-2zM812 322h1v1h-1zM810 323h2v1h-2zM809 324h1v1h-1zM807 325h2v1h-2zM805 326h2v1h-2zM804 327h1v1h-1zM802 328h2v1h-2zM801 329h1v1h-1zM799 330h2v1h-2zM797 331h2v1h-2zM796 332h1v1h-1zM794 333h2v1h-2zM793 334h1v1h-1zM791 335h2v1h-2zM790 336h1v1h-1zM788 337h2v1h-2zM786 338h2v1h-2zM785 339h1v1h-1zM783 340h2v1h-2zM782 341h1v1h-1zM780 342h2v1h-2zM779 343h1v1h-1zM777 344h2v1h-2zM775 345h2v1h-2zM774 346h1v1h-1zM772 347h2v1h-2zM771 348h1v1h-1zM769 349h2v1h-2zM767 350h2v1h-2zM766 351h1v1h-1zM764 352h2v1h-2zM763 353h1v1h-1zM761 354h2v1h-2zM760 355h1v1h-1zM758 356h2v1h-2zM756 357h2v1h-2zM755 358h1v1h-1zM753 359h2v1h-2zM752 360h1v1h-1z" fill="#008000" shape-rendering="crispEdges"/>
<path d="M814 329h1v1h-1zM814 330h1v1h-1zM815 331h1v1h-1zM816 335h1v1h-1zM817 336h1v1h-1zM817 337h1v1h-1zM819 341h1v1h-1zM819 342h1v1h-1zM819 343h1v1h-1zM821 347h1v1h-1zM821 348h1v1h-1zM822 350h1v1h-1z" fill="#008000" shape-rendering="crispEdges"/>
<path d="M376 607h1v1h-1zM376 608h1v1h-1zM377 609h1v1h-1zM379 613h1v1h-1zM379 614h1v1h-1zM379 615h1v1h-1zM381 619h1v1h-1zM381 620h1v1h-1zM382 621h1v1h-1zM384 625h1v1h-1zM384 626h1v1h-1zM384 627h1v1h-1zM386 631h1v1h-1zM386 632h1v1h-1zM387 633h1v1h-1zM389 637h1v1h-1zM389 638h1v1h-1zM389 639h1v1h-1zM391 643h1v1h-1zM392 644h1v1h-1zM392 645h1v1h-1zM394 649h1v1h-1zM394 650h1v1h-1zM394 651h1v1h-1zM396 655h1v1h-1zM397 656h1v1h-1zM397 657h1v1h-1zM399 661h1v1h-1zM399 662h1v1h-1zM400 664h1v1h-1z" fill="#f00" shape-rendering="crispEdges"/>
<g shape-rendering="crispEdges" fill="none">
<path d="M827 313.5H865" stroke="#f00" stroke-width="1" stroke-dasharray="4 3"/>
<path d="M827 199.5H855" stroke="#008000" stroke-width="1" stroke-dasharray="3 3"/>
</g>
<g shape-rendering="crispEdges">
<rect x="934" y="872" width="47" height="36" fill="#ebebeb"/>
<rect x="933" y="871" width="48" height="1" fill="#808080"/>
<rect x="933" y="872" width="1" height="36" fill="#808080"/>
<rect x="0" y="907" width="934" height="1" fill="#808080"/>
<rect x="933" y="0" width="1" height="872" fill="#000"/>
<rect x="0" y="871" width="934" height="1" fill="#000"/>
<rect x="934" y="864" width="3" height="1"/>
<rect x="934" y="855" width="3" height="1"/>
<rect x="934" y="845" width="8" height="1"/>
<rect x="934" y="836" width="3" height="1"/>
<rect x="934" y="827" width="3" height="1"/>
<rect x="934" y="818" width="3" height="1"/>
<rect x="934" y="809" width="3" height="1"/>
<rect x="934" y="800" width="8" height="1"/>
<rect x="934" y="791" width="3" height="1"/>
<rect x="934" y="782" width="3" height="1"/>
<rect x="934" y="773" width="3" height="1"/>
<rect x="934" y="765" width="3" height="1"/>
<rect x="934" y="756" width="8" height="1"/>
<rect x="934" y="747" width="3" height="1"/>
<rect x="934" y="739" width="3" height="1"/>
<rect x="934" y="730" width="3" height="1"/>
<rect x="934" y="722" width="3" height="1"/>
<rect x="934" y="714" width="8" height="1"/>
<rect x="934" y="705" width="3" height="1"/>
<rect x="934" y="697" width="3" height="1"/>
<rect x="934" y="689" width="3" height="1"/>
<rect x="934" y="681" width="3" height="1"/>
<rect x="934" y="672" width="8" height="1"/>
<rect x="934" y="664" width="3" height="1"/>
<rect x="934" y="656" width="3" height="1"/>
<rect x="934" y="648" width="3" height="1"/>
<rect x="934" y="640" width="3" height="1"/>
<rect x="934" y="633" width="8" height="1"/>
<rect x="934" y="625" width="3" height="1"/>
<rect x="934" y="617" width="3" height="1"/>
<rect x="934" y="609" width="3" height="1"/>
<rect x="934" y="602" width="3" height="1"/>
<rect x="934" y="594" width="8" height="1"/>
<rect x="934" y="586" width="3" height="1"/>
<rect x="934" y="579" width="3" height="1"/>
<rect x="934" y="571" width="3" height="1"/>
<rect x="934" y="564" width="3" height="1"/>
<rect x="934" y="556" width="8" height="1"/>
<rect x="934" y="549" width="3" height="1"/>
<rect x="934" y="542" width="3" height="1"/>
<rect x="934" y="534" width="3" height="1"/>
<rect x="934" y="527" width="3" height="1"/>
<rect x="934" y="520" width="8" height="1"/>
<rect x="934" y="513" width="3" height="1"/>
<rect x="934" y="505" width="3" height="1"/>
<rect x="934" y="498" width="3" height="1"/>
<rect x="934" y="491" width="3" height="1"/>
<rect x="934" y="484" width="8" height="1"/>
<rect x="934" y="477" width="3" height="1"/>
<rect x="934" y="470" width="3" height="1"/>
<rect x="934" y="463" width="3" height="1"/>
<rect x="934" y="457" width="3" height="1"/>
<rect x="934" y="450" width="8" height="1"/>
<rect x="934" y="443" width="3" height="1"/>
<rect x="934" y="436" width="3" height="1"/>
<rect x="934" y="429" width="3" height="1"/>
<rect x="934" y="423" width="3" height="1"/>
<rect x="934" y="416" width="8" height="1"/>
<rect x="934" y="409" width="3" height="1"/>
<rect x="934" y="403" width="3" height="1"/>
<rect x="934" y="396" width="3" height="1"/>
<rect x="934" y="390" width="3" height="1"/>
<rect x="934" y="383" width="8" height="1"/>
<rect x="934" y="377" width="3" height="1"/>
<rect x="934" y="370" width="3" height="1"/>
<rect x="934" y="364" width="3" height="1"/>
<rect x="934" y="358" width="3" height="1"/>
<rect x="934" y="351" width="8" height="1"/>
<rect x="934" y="345" width="3" height="1"/>
<rect x="934" y="339" width="3" height="1"/>
<rect x="934" y="332" width="3" height="1"/>
<rect x="934" y="326" width="3" height="1"/>
<rect x="934" y="320" width="8" height="1"/>
<rect x="934" y="314" width="3" height="1"/>
<rect x="934" y="308" width="3" height="1"/>
<rect x="934" y="302" width="3" height="1"/>
<rect x="934" y="296" width="3" height="1"/>
<rect x="934" y="290" width="8" height="1"/>
<rect x="934" y="284" width="3" height="1"/>
<rect x="934" y="278" width="3" height="1"/>
<rect x="934" y="272" width="3" height="1"/>
<rect x="934" y="266" width="3" height="1"/>
<rect x="934" y="260" width="8" height="1"/>
<rect x="934" y="254" width="3" height="1"/>
<rect x="934" y="248" width="3" height="1"/>
<rect x="934" y="242" width="3" height="1"/>
<rect x="934" y="236" width="3" height="1"/>
<rect x="934" y="231" width="8" height="1"/>
<rect x="934" y="225" width="3" height="1"/>
<rect x="934" y="219" width="3" height="1"/>
<rect x="934" y="213" width="3" height="1"/>
<rect x="934" y="208" width="3" height="1"/>
<rect x="934" y="202" width="8" height="1"/>
<rect x="934" y="197" width="3" height="1"/>
<rect x="934" y="191" width="3" height="1"/>
<rect x="934" y="185" width="3" height="1"/>
<rect x="934" y="180" width="3" height="1"/>
<rect x="934" y="174" width="8" height="1"/>
<rect x="934" y="169" width="3" height="1"/>
<rect x="934" y="163" width="3" height="1"/>
<rect x="934" y="158" width="3" height="1"/>
<rect x="934" y="152" width="3" height="1"/>
<rect x="934" y="147" width="8" height="1"/>
<rect x="934" y="142" width="3" height="1"/>
<rect x="934" y="136" width="3" height="1"/>
<rect x="934" y="131" width="3" height="1"/>
<rect x="934" y="126" width="3" height="1"/>
<rect x="934" y="120" width="8" height="1"/>
<rect x="934" y="115" width="3" height="1"/>
<rect x="934" y="110" width="3" height="1"/>
<rect x="934" y="105" width="3" height="1"/>
<rect x="934" y="99" width="3" height="1"/>
<rect x="934" y="94" width="8" height="1"/>
<rect x="934" y="89" width="3" height="1"/>
<rect x="934" y="84" width="3" height="1"/>
<rect x="934" y="79" width="3" height="1"/>
<rect x="934" y="74" width="3" height="1"/>
<rect x="934" y="68" width="8" height="1"/>
<rect x="934" y="63" width="3" height="1"/>
<rect x="934" y="58" width="3" height="1"/>
<rect x="934" y="53" width="3" height="1"/>
<rect x="934" y="48" width="3" height="1"/>
<rect x="934" y="43" width="8" height="1"/>
<rect x="934" y="38" width="3" height="1"/>
<rect x="934" y="33" width="3" height="1"/>
<rect x="934" y="28" width="3" height="1"/>
<rect x="934" y="24" width="3" height="1"/>
<rect x="934" y="19" width="8" height="1"/>
<rect x="934" y="14" width="3" height="1"/>
<rect x="934" y="9" width="3" height="1"/>
<rect x="934" y="4" width="3" height="1"/>
<rect x="27" y="872" width="1" height="35"/>
<rect x="116" y="872" width="1" height="35"/>
<rect x="194" y="872" width="1" height="35"/>
<rect x="271" y="872" width="1" height="35"/>
<rect x="353" y="872" width="1" height="35"/>
<rect x="438" y="872" width="1" height="35"/>
<rect x="523" y="872" width="1" height="35"/>
<rect x="609" y="872" width="1" height="35"/>
<rect x="690" y="872" width="1" height="35"/>
<rect x="775" y="872" width="1" height="35"/>
<rect x="857" y="872" width="1" height="35"/>
<rect x="8" y="872" width="1" height="9"/>
<rect x="47" y="872" width="1" height="9"/>
<rect x="66" y="872" width="1" height="9"/>
<rect x="85" y="872" width="1" height="9"/>
<rect x="105" y="872" width="1" height="9"/>
<rect x="120" y="872" width="1" height="9"/>
<rect x="136" y="872" width="1" height="9"/>
<rect x="155" y="872" width="1" height="9"/>
<rect x="175" y="872" width="1" height="9"/>
<rect x="213" y="872" width="1" height="9"/>
<rect x="229" y="872" width="1" height="9"/>
<rect x="248" y="872" width="1" height="9"/>
<rect x="268" y="872" width="1" height="9"/>
<rect x="287" y="872" width="1" height="9"/>
<rect x="306" y="872" width="1" height="9"/>
<rect x="326" y="872" width="1" height="9"/>
<rect x="341" y="872" width="1" height="9"/>
<rect x="361" y="872" width="1" height="9"/>
<rect x="380" y="872" width="1" height="9"/>
<rect x="399" y="872" width="1" height="9"/>
<rect x="419" y="872" width="1" height="9"/>
<rect x="458" y="872" width="1" height="9"/>
<rect x="477" y="872" width="1" height="9"/>
<rect x="496" y="872" width="1" height="9"/>
<rect x="516" y="872" width="1" height="9"/>
<rect x="535" y="872" width="1" height="9"/>
<rect x="554" y="872" width="1" height="9"/>
<rect x="574" y="872" width="1" height="9"/>
<rect x="593" y="872" width="1" height="9"/>
<rect x="613" y="872" width="1" height="9"/>
<rect x="632" y="872" width="1" height="9"/>
<rect x="651" y="872" width="1" height="9"/>
<rect x="671" y="872" width="1" height="9"/>
<rect x="709" y="872" width="1" height="9"/>
<rect x="729" y="872" width="1" height="9"/>
<rect x="748" y="872" width="1" height="9"/>
<rect x="768" y="872" width="1" height="9"/>
<rect x="787" y="872" width="1" height="9"/>
<rect x="806" y="872" width="1" height="9"/>
<rect x="826" y="872" width="1" height="9"/>
<rect x="841" y="872" width="1" height="9"/>
<rect x="872" y="872" width="1" height="9"/>
<rect x="892" y="872" width="1" height="9"/>
<rect x="911" y="872" width="1" height="9"/>
<rect x="930" y="872" width="1" height="9"/>
<rect x="938" y="217" width="43" height="28" fill="#004080"/>
</g>
<text x="5.6" y="28.0" font-size="20.7" fill="#000" textLength="134.4" lengthAdjust="spacingAndGlyphs">RIC: INVEb.ST</text>
<text x="5.6" y="57.0" font-size="20.7" fill="#000" textLength="208.8" lengthAdjust="spacingAndGlyphs">EXCHANGE: SWEDEN</text>
<text x="5.6" y="86.0" font-size="20.7" fill="#000" textLength="207.0" lengthAdjust="spacingAndGlyphs">SECTOR: FINANCIALS</text>
<text x="5.6" y="115.2" font-size="20.7" fill="#000" textLength="119.6" lengthAdjust="spacingAndGlyphs">DAILY SCALE</text>
<text x="471.5" y="57.7" font-size="18.5" fill="#00f" textLength="317.1" lengthAdjust="spacingAndGlyphs">CUP &amp; HANDLE PRICE TARGET: 255</text>
<text x="11.6" y="238.6" font-size="20" fill="#00f" textLength="441.4" lengthAdjust="spacingAndGlyphs">4 MONTH-LONG CUP &amp; HANDLE CONTINUATION</text>
<rect x="761" y="194" width="68" height="22" fill="#fff"/>
<text x="765.2" y="209.4" font-size="18.5" fill="#008000" textLength="60.4" lengthAdjust="spacingAndGlyphs">230.65</text>
<text x="881.3" y="262.6" font-size="18.5" fill="#00f" textLength="32.3" lengthAdjust="spacingAndGlyphs">222</text>
<text x="872.3" y="320.1" font-size="18.5" fill="#f00" textLength="31.9" lengthAdjust="spacingAndGlyphs">211</text>
<text x="785.8" y="372.4" font-size="19.5" fill="#008000" textLength="107.8" lengthAdjust="spacingAndGlyphs">ASCENDING</text>
<text x="785.8" y="399.5" font-size="19" fill="#008000" textLength="89.9" lengthAdjust="spacingAndGlyphs">TRIANGLE</text>
<text x="362.4" y="691.4" font-size="19.2" fill="#f00" textLength="167.0" lengthAdjust="spacingAndGlyphs">200 DAY AVERAGE</text>
<text x="29.6" y="902.3" font-size="20" fill="#000" textLength="41.7" lengthAdjust="spacingAndGlyphs">Mar</text>
<text x="119.1" y="902.3" font-size="20" fill="#000" textLength="35.7" lengthAdjust="spacingAndGlyphs">Apr</text>
<text x="196.8" y="902.3" font-size="20" fill="#000" textLength="43.4" lengthAdjust="spacingAndGlyphs">May</text>
<text x="272.90000000000003" y="902.3" font-size="20" fill="#000" textLength="34.5" lengthAdjust="spacingAndGlyphs">Jun</text>
<text x="355.3" y="902.3" font-size="20" fill="#000" textLength="26.7" lengthAdjust="spacingAndGlyphs">Jul</text>
<text x="440.6" y="902.3" font-size="20" fill="#000" textLength="39.6" lengthAdjust="spacingAndGlyphs">Aug</text>
<text x="525.1999999999999" y="902.3" font-size="20" fill="#000" textLength="35.7" lengthAdjust="spacingAndGlyphs">Sep</text>
<text x="611.3" y="902.3" font-size="20" fill="#000" textLength="33.7" lengthAdjust="spacingAndGlyphs">Oct</text>
<text x="692.9" y="902.3" font-size="20" fill="#000" textLength="39.7" lengthAdjust="spacingAndGlyphs">Nov</text>
<text x="777.4" y="902.3" font-size="20" fill="#000" textLength="37.0" lengthAdjust="spacingAndGlyphs">Dec</text>
<text x="859.8" y="902.3" font-size="20" fill="#000" textLength="47.1" lengthAdjust="spacingAndGlyphs">2022</text>
<text x="947.5" y="855.3" font-size="19.3" fill="#000" textLength="31.4" lengthAdjust="spacingAndGlyphs">140</text>
<text x="947.5" y="809.8" font-size="19.3" fill="#000" textLength="31.4" lengthAdjust="spacingAndGlyphs">145</text>
<text x="947.5" y="765.9" font-size="19.3" fill="#000" textLength="31.4" lengthAdjust="spacingAndGlyphs">150</text>
<text x="947.5" y="723.4" font-size="19.3" fill="#000" textLength="31.4" lengthAdjust="spacingAndGlyphs">155</text>
<text x="947.5" y="682.2" font-size="19.3" fill="#000" textLength="31.4" lengthAdjust="spacingAndGlyphs">160</text>
<text x="947.5" y="642.4" font-size="19.3" fill="#000" textLength="31.4" lengthAdjust="spacingAndGlyphs">165</text>
<text x="947.5" y="603.7" font-size="19.3" fill="#000" textLength="31.4" lengthAdjust="spacingAndGlyphs">170</text>
<text x="947.5" y="566.1" font-size="19.3" fill="#000" textLength="31.4" lengthAdjust="spacingAndGlyphs">175</text>
<text x="947.5" y="529.6" font-size="19.3" fill="#000" textLength="31.4" lengthAdjust="spacingAndGlyphs">180</text>
<text x="947.5" y="494.1" font-size="19.3" fill="#000" textLength="31.4" lengthAdjust="spacingAndGlyphs">185</text>
<text x="947.5" y="459.5" font-size="19.3" fill="#000" textLength="31.4" lengthAdjust="spacingAndGlyphs">190</text>
<text x="947.5" y="425.9" font-size="19.3" fill="#000" textLength="31.4" lengthAdjust="spacingAndGlyphs">195</text>
<text x="947.5" y="393.1" font-size="19.3" fill="#000" textLength="31.4" lengthAdjust="spacingAndGlyphs">200</text>
<text x="947.5" y="361.1" font-size="19.3" fill="#000" textLength="31.4" lengthAdjust="spacingAndGlyphs">205</text>
<text x="947.5" y="329.9" font-size="19.3" fill="#000" textLength="31.4" lengthAdjust="spacingAndGlyphs">210</text>
<text x="947.5" y="299.4" font-size="19.3" fill="#000" textLength="31.4" lengthAdjust="spacingAndGlyphs">215</text>
<text x="947.5" y="269.6" font-size="19.3" fill="#000" textLength="31.4" lengthAdjust="spacingAndGlyphs">220</text>
<text x="947.5" y="212.0" font-size="19.3" fill="#000" textLength="31.4" lengthAdjust="spacingAndGlyphs">230</text>
<text x="947.5" y="184.1" font-size="19.3" fill="#000" textLength="31.4" lengthAdjust="spacingAndGlyphs">235</text>
<text x="947.5" y="156.8" font-size="19.3" fill="#000" textLength="31.4" lengthAdjust="spacingAndGlyphs">240</text>
<text x="947.5" y="130.1" font-size="19.3" fill="#000" textLength="31.4" lengthAdjust="spacingAndGlyphs">245</text>
<text x="947.5" y="103.9" font-size="19.3" fill="#000" textLength="31.4" lengthAdjust="spacingAndGlyphs">250</text>
<text x="947.5" y="78.3" font-size="19.3" fill="#000" textLength="31.4" lengthAdjust="spacingAndGlyphs">255</text>
<text x="947.5" y="53.1" font-size="19.3" fill="#000" textLength="31.4" lengthAdjust="spacingAndGlyphs">260</text>
<text x="947.5" y="28.4" font-size="19.3" fill="#000" textLength="31.4" lengthAdjust="spacingAndGlyphs">265</text>
<text x="939.3" y="238.1" font-size="18.3" fill="#fff" textLength="48.4" lengthAdjust="spacingAndGlyphs">225.4</text>
</svg></body></html>
